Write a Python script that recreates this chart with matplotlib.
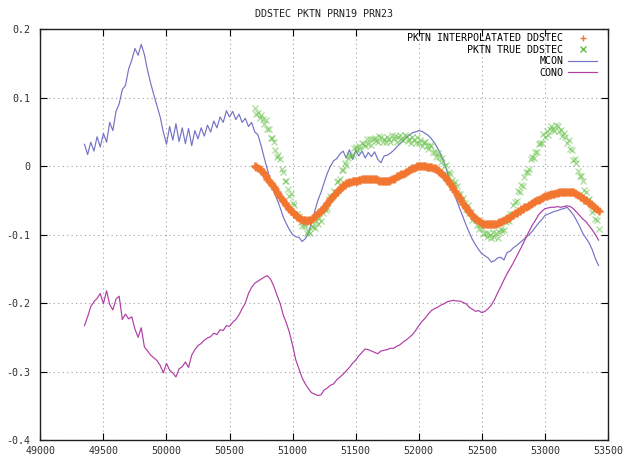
import numpy as np
import matplotlib
matplotlib.use("Agg")
import matplotlib.pyplot as plt
from matplotlib.ticker import FuncFormatter, MultipleLocator

# --- data -------------------------------------------------------------
mcon_x = np.arange(49350, 53426, 25)
mcon = [
    0.032, 0.017, 0.035, 0.022, 0.043, 0.028, 0.048, 0.035,
    0.064, 0.052, 0.080, 0.091, 0.112, 0.118, 0.142, 0.155,
    0.172, 0.162, 0.178, 0.163, 0.140, 0.121, 0.104, 0.088,
    0.072, 0.050, 0.032, 0.058, 0.038, 0.062, 0.036, 0.056,
    0.033, 0.055, 0.030, 0.052, 0.040, 0.056, 0.044, 0.060,
    0.050, 0.066, 0.056, 0.072, 0.064, 0.081, 0.072, 0.080,
    0.068, 0.076, 0.064, 0.070, 0.058, 0.064, 0.050, 0.046,
    0.030, 0.012, -0.005, -0.020, -0.036, -0.048, -0.060, -0.074,
    -0.084, -0.093, -0.100, -0.103, -0.104, -0.110, -0.106, -0.098,
    -0.082, -0.066, -0.050, -0.038, -0.024, -0.010, 0.000, 0.008,
    0.011, 0.018, 0.022, 0.012, 0.024, 0.010, 0.023, 0.015,
    0.022, 0.012, 0.020, 0.014, 0.021, 0.010, 0.005, 0.015,
    0.016, 0.019, 0.023, 0.028, 0.033, 0.037, 0.042, 0.045,
    0.049, 0.050, 0.052, 0.051, 0.048, 0.045, 0.040, 0.034,
    0.026, 0.017, 0.006, -0.008, -0.022, -0.036, -0.050, -0.062,
    -0.074, -0.086, -0.097, -0.107, -0.115, -0.122, -0.128, -0.131,
    -0.134, -0.140, -0.138, -0.134, -0.133, -0.137, -0.126, -0.124,
    -0.119, -0.116, -0.112, -0.108, -0.104, -0.100, -0.095, -0.089,
    -0.083, -0.078, -0.072, -0.070, -0.068, -0.066, -0.065, -0.063,
    -0.062, -0.060, -0.065, -0.071, -0.079, -0.088, -0.098, -0.105,
    -0.112, -0.122, -0.135, -0.145,
]

cono_x = np.arange(49350, 53426, 25)
cono = [
    -0.233, -0.220, -0.205, -0.198, -0.193, -0.186, -0.201, -0.182,
    -0.202, -0.210, -0.194, -0.190, -0.224, -0.216, -0.223, -0.220,
    -0.238, -0.250, -0.236, -0.264, -0.270, -0.276, -0.280, -0.284,
    -0.291, -0.302, -0.288, -0.298, -0.302, -0.308, -0.296, -0.293,
    -0.286, -0.294, -0.276, -0.268, -0.262, -0.259, -0.254, -0.251,
    -0.249, -0.244, -0.246, -0.239, -0.240, -0.233, -0.234, -0.228,
    -0.224, -0.217, -0.208, -0.200, -0.186, -0.177, -0.171, -0.168,
    -0.165, -0.162, -0.160, -0.165, -0.175, -0.188, -0.200, -0.217,
    -0.229, -0.243, -0.262, -0.283, -0.296, -0.309, -0.318, -0.325,
    -0.331, -0.333, -0.335, -0.334, -0.327, -0.324, -0.320, -0.318,
    -0.312, -0.308, -0.304, -0.299, -0.294, -0.288, -0.283, -0.277,
    -0.272, -0.267, -0.268, -0.270, -0.272, -0.274, -0.270, -0.269,
    -0.268, -0.266, -0.266, -0.263, -0.261, -0.257, -0.254, -0.250,
    -0.246, -0.240, -0.233, -0.227, -0.222, -0.216, -0.211, -0.208,
    -0.206, -0.203, -0.201, -0.198, -0.197, -0.196, -0.197, -0.197,
    -0.199, -0.201, -0.206, -0.209, -0.212, -0.211, -0.214, -0.212,
    -0.208, -0.203, -0.195, -0.185, -0.176, -0.166, -0.157, -0.149,
    -0.141, -0.132, -0.123, -0.114, -0.104, -0.095, -0.086, -0.079,
    -0.071, -0.066, -0.062, -0.061, -0.060, -0.060, -0.059, -0.060,
    -0.059, -0.058, -0.059, -0.062, -0.067, -0.072, -0.077, -0.081,
    -0.087, -0.093, -0.100, -0.108,
]

pktn_x = np.arange(50700, 53426, 12.5)
pktn_interp = [
    0.001, -0.001, -0.002, -0.004, -0.006, -0.009, -0.012, -0.015,
    -0.018, -0.021, -0.024, -0.027, -0.031, -0.034, -0.038, -0.041,
    -0.045, -0.048, -0.051, -0.054, -0.057, -0.060, -0.062, -0.065,
    -0.067, -0.070, -0.072, -0.074, -0.076, -0.077, -0.078, -0.079,
    -0.079, -0.080, -0.079, -0.078, -0.077, -0.075, -0.073, -0.071,
    -0.069, -0.067, -0.065, -0.062, -0.060, -0.057, -0.054, -0.051,
    -0.048, -0.045, -0.042, -0.040, -0.037, -0.035, -0.033, -0.030,
    -0.028, -0.027, -0.025, -0.024, -0.023, -0.023, -0.022, -0.022,
    -0.021, -0.021, -0.020, -0.020, -0.019, -0.019, -0.018, -0.018,
    -0.018, -0.018, -0.018, -0.018, -0.019, -0.019, -0.020, -0.021,
    -0.022, -0.022, -0.022, -0.022, -0.021, -0.021, -0.020, -0.019,
    -0.018, -0.017, -0.015, -0.014, -0.013, -0.012, -0.011, -0.010,
    -0.009, -0.007, -0.006, -0.004, -0.003, -0.002, -0.001, 0.000,
    0.000, 0.000, 0.000, 0.000, 0.000, -0.001, -0.001, -0.001,
    -0.001, -0.002, -0.003, -0.004, -0.006, -0.008, -0.010, -0.012,
    -0.014, -0.017, -0.020, -0.023, -0.026, -0.029, -0.033, -0.036,
    -0.040, -0.043, -0.047, -0.051, -0.055, -0.058, -0.061, -0.064,
    -0.067, -0.070, -0.072, -0.075, -0.077, -0.079, -0.080, -0.082,
    -0.083, -0.084, -0.084, -0.085, -0.085, -0.085, -0.085, -0.085,
    -0.084, -0.084, -0.083, -0.082, -0.081, -0.080, -0.079, -0.077,
    -0.076, -0.075, -0.074, -0.072, -0.071, -0.069, -0.068, -0.066,
    -0.065, -0.063, -0.062, -0.060, -0.059, -0.058, -0.056, -0.055,
    -0.054, -0.052, -0.051, -0.050, -0.049, -0.048, -0.047, -0.045,
    -0.044, -0.043, -0.042, -0.042, -0.041, -0.040, -0.040, -0.039,
    -0.039, -0.038, -0.038, -0.037, -0.037, -0.037, -0.037, -0.037,
    -0.037, -0.037, -0.038, -0.039, -0.040, -0.042, -0.044, -0.045,
    -0.047, -0.049, -0.050, -0.052, -0.054, -0.055, -0.057, -0.059,
    -0.061, -0.063, -0.065,
]
pktn_true = [
    0.085, 0.076, 0.078, 0.070, 0.075, 0.069, 0.062, 0.067,
    0.055, 0.055, 0.041, 0.041, 0.036, 0.024, 0.014, 0.017,
    0.010, -0.004, -0.008, -0.022, -0.022, -0.033, -0.044, -0.041,
    -0.054, -0.056, -0.071, -0.070, -0.073, -0.082, -0.088, -0.084,
    -0.088, -0.097, -0.094, -0.098, -0.088, -0.089, -0.091, -0.080,
    -0.084, -0.076, -0.080, -0.069, -0.063, -0.064, -0.061, -0.048,
    -0.043, -0.045, -0.036, -0.037, -0.023, -0.021, -0.019, -0.005,
    -0.006, 0.005, 0.002, 0.012, 0.017, 0.015, 0.016, 0.027,
    0.028, 0.023, 0.029, 0.025, 0.034, 0.032, 0.029, 0.039,
    0.033, 0.039, 0.031, 0.039, 0.041, 0.037, 0.035, 0.044,
    0.043, 0.036, 0.040, 0.035, 0.043, 0.040, 0.036, 0.046,
    0.039, 0.044, 0.036, 0.043, 0.045, 0.040, 0.038, 0.045,
    0.044, 0.037, 0.040, 0.034, 0.042, 0.038, 0.034, 0.042,
    0.034, 0.038, 0.029, 0.035, 0.035, 0.029, 0.025, 0.031,
    0.029, 0.020, 0.021, 0.013, 0.019, 0.013, 0.006, 0.012,
    0.001, 0.002, -0.011, -0.008, -0.011, -0.020, -0.027, -0.023,
    -0.029, -0.040, -0.041, -0.051, -0.047, -0.054, -0.062, -0.057,
    -0.068, -0.067, -0.079, -0.076, -0.078, -0.086, -0.092, -0.086,
    -0.090, -0.099, -0.097, -0.104, -0.097, -0.100, -0.105, -0.096,
    -0.103, -0.098, -0.105, -0.096, -0.092, -0.094, -0.093, -0.081,
    -0.078, -0.080, -0.070, -0.070, -0.056, -0.053, -0.051, -0.036,
    -0.037, -0.027, -0.029, -0.016, -0.008, -0.008, -0.004, 0.010,
    0.014, 0.012, 0.021, 0.020, 0.033, 0.034, 0.034, 0.047,
    0.043, 0.051, 0.045, 0.054, 0.058, 0.054, 0.052, 0.060,
    0.059, 0.051, 0.053, 0.044, 0.049, 0.042, 0.034, 0.038,
    0.025, 0.024, 0.009, 0.010, 0.005, -0.007, -0.015, -0.014,
    -0.021, -0.035, -0.037, -0.050, -0.048, -0.057, -0.067, -0.064,
    -0.077, -0.078, -0.092,
]

# --- plot -------------------------------------------------------------
plt.rcParams['font.family'] = ['DejaVu Sans Mono']
plt.rcParams['font.size'] = 7.2

fig = plt.figure(figsize=(6.38, 4.59), dpi=100)
ax = fig.add_axes([0.0632, 0.0414, 0.8898, 0.8948])

ax.plot(pktn_x, pktn_interp, linestyle='none', marker='+', ms=6.2, mew=1.8,
        color='#f27530', label='PKTN INTERPOLATATED DDSTEC', zorder=4)
ax.plot(pktn_x, pktn_true, linestyle='none', marker='x', ms=4.6, mew=0.9,
        color='#62c044', alpha=0.55, label='PKTN TRUE DDSTEC', zorder=3)
ax.plot(mcon_x, mcon, color='#7373c4', lw=0.85, label='MCON', zorder=2)
ax.plot(cono_x, cono, color='#b03ca6', lw=0.85, label='CONO', zorder=2)

ax.set_xlim(49000, 53500)
ax.set_ylim(-0.4, 0.2)
ax.xaxis.set_major_locator(MultipleLocator(500))
ax.yaxis.set_major_locator(MultipleLocator(0.1))
ax.yaxis.set_major_formatter(FuncFormatter(lambda v, p: '%g' % round(v, 6)))
ax.xaxis.set_major_formatter(FuncFormatter(lambda v, p: '%g' % v))

ax.grid(True, linestyle=(0, (1, 3)), color='#a0a0a0', lw=0.8)
ax.tick_params(direction='in', length=5, width=0.8, top=True, right=True,
               colors='black', labelcolor='#303030')
ax.tick_params(axis='y', pad=7)
ax.tick_params(axis='x', pad=4)
for s in ax.spines.values():
    s.set_linewidth(1.0)
    s.set_color('#202020')

ax.set_title('DDSTEC PKTN PRN19 PRN23', fontsize=7.2, pad=9, color='#202020')

leg = ax.legend(loc='upper right', bbox_to_anchor=(0.981, 0.99), frameon=False,
                markerfirst=False, borderpad=0, borderaxespad=0,
                handlelength=2.9, handletextpad=0.5, labelspacing=0.15,
                numpoints=1)
for h in leg.legend_handles[:2]:
    h.set_markersize(4)
    h.set_markeredgewidth(1.0)
    h.set_alpha(1.0)

fig.savefig('out.png', dpi=100)
